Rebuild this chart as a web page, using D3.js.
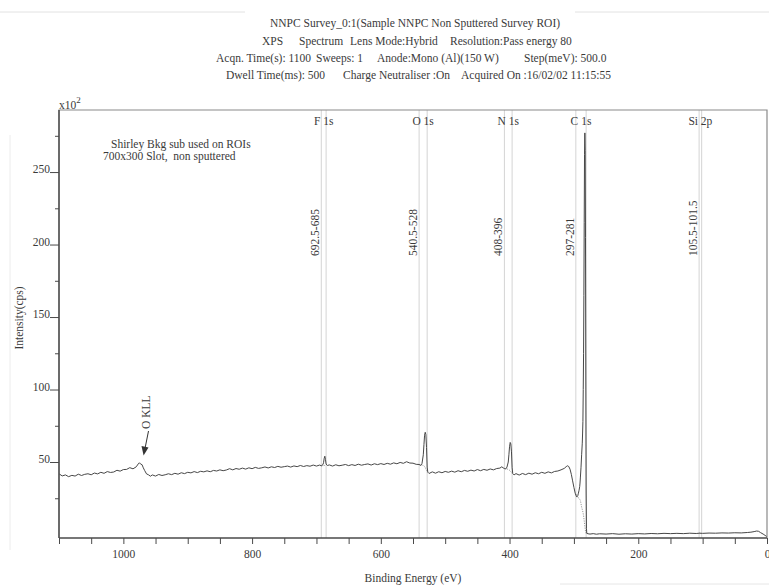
<!DOCTYPE html>
<html><head><meta charset="utf-8">
<script src="https://cdn.jsdelivr.net/npm/d3@7/dist/d3.min.js"></script>
<style>
body{margin:0;background:#fff;}
svg text{font-family:"Liberation Serif","Times New Roman",serif;fill:#3a3a3a;}
</style></head>
<body>
<svg id="chart" width="769" height="587"></svg>
<script>
// ---------- data (binding energy in eV, intensity in x10^2 cps) ----------
const titleLines = [
  ["NNPC Survey_0:1(Sample NNPC Non Sputtered Survey ROI)"],
  ["XPS", "Spectrum", "Lens Mode:Hybrid", "Resolution:Pass energy 80"],
  ["Acqn. Time(s): 1100", "Sweeps: 1", "Anode:Mono (Al)(150 W)", "Step(meV): 500.0"],
  ["Dwell Time(ms): 500", "Charge Neutraliser :On", "Acquired On :16/02/02 11:15:55"]
];
const noteLines = ["Shirley Bkg sub used on ROIs", "700x300 Slot,  non sputtered"];
const xTicksMajor = [1000, 800, 600, 400, 200, 0];
const yTicksMajor = [50, 100, 150, 200, 250];
const yTicksMinor = [25, 75, 125, 175, 225, 275];

const roiNames = ["F 1s", "O 1s", "N 1s", "C 1s", "Si 2p"];
const roiHigh  = [692.5, 540.5, 408, 297, 105.5];
const roiLow   = [685, 528, 396, 281, 101.5];

const bindingEnergy = [
1100,1095,1090,1085,1080,1075,1070,1065,1060,1055,1050,1045,1040,1035,1030,1025,1020,1015,1010,1005,
1000,995,990,985,980,977,975,973,971,969,967,964,961,958,955,950,945,940,935,930,925,920,915,910,905,
900,895,890,885,880,875,870,865,860,855,850,845,840,835,830,825,820,815,810,805,800,795,790,785,780,
775,770,765,760,755,750,745,740,735,730,725,720,715,710,705,700,695,692.5,690,689,688,687,686,685,683,
680,675,670,665,660,655,650,645,640,635,630,625,620,615,610,605,600,595,590,585,580,575,570,565,560,
555,550,545,540.5,538,536,534,533,532,531,530,529,528,527,525,520,515,510,505,500,495,490,485,480,
475,470,465,460,455,450,445,440,435,430,425,420,415,412,410,408,406,404,402,401,400,399,398,397,396,
395,393,390,385,380,375,370,365,360,355,350,345,340,335,330,325,320,315,312,310,308,306,304,302,300,
298,296,295,294,293,292,291,290.5,290,289,288,287,286.5,286,285.5,285,284.5,284,283.5,283,282.5,282,
281.5,281,280.5,280,278,275,270,265,260,250,240,230,220,210,200,190,180,170,160,150,140,130,120,110,
105,100,90,80,70,60,50,40,30,25,20,16,13,10,6,3,0];
const intensity = [
41.9,40.4,41.1,39.9,40.8,40.3,41.6,40.7,41.5,41.9,41.2,42.4,41.8,42.9,42.2,43.4,42.8,43.1,44.3,43.7,
44.8,44.9,46.1,45.3,46.7,48.6,49.5,48.5,48.2,46.0,44.2,41.8,41.2,40.2,41.1,40.3,41.4,40.7,41.2,41.9,41.3,42.2,41.6,42.6,42.0,
42.9,42.5,43.4,42.7,43.6,43.2,43.9,43.3,44.2,43.8,44.6,44.0,44.5,45.4,44.6,45.5,45.0,45.8,45.1,46.0,45.4,46.3,45.6,46.0,46.6,
45.9,46.7,46.2,47.0,46.4,46.8,47.2,46.5,47.3,46.8,47.6,46.9,47.5,47.1,47.9,47.2,47.9,47.4,48.2,49.5,52.5,54.0,51.8,48.6,47.6,
48.0,47.2,48.1,47.4,47.8,48.3,47.5,48.2,47.6,48.5,47.8,48.3,48.7,47.9,48.8,48.2,48.9,48.3,49.1,48.5,49.4,48.8,49.7,49.1,50.2,
49.3,49.2,48.4,48.3,47.6,49.0,55.0,62.0,68.5,70.5,69.0,60.0,46.5,43.0,42.1,43.2,42.3,43.3,42.6,43.5,42.9,43.7,43.0,44.0,
43.3,44.2,43.6,44.4,43.8,44.8,44.0,44.9,44.3,45.2,44.6,45.5,45.8,46.7,46.0,45.5,45.2,46.5,50.0,55.0,60.5,63.5,62.5,57.0,46.0,
42.0,41.1,42.0,41.0,42.1,41.3,42.3,41.6,42.6,41.9,42.9,42.2,43.2,42.5,43.5,43.8,44.6,45.6,46.8,47.4,46.9,45.0,41.5,37.0,32.5,
28.5,26.2,26.0,26.8,28.5,30.5,33.0,35.5,39.0,46.0,55.0,63.0,70.0,78.0,100.0,125.0,165.0,215.0,262.0,277.0,265.0,205.0,
110.0,30.0,4.0,0.8,0.5,0.3,0.6,0.2,0.5,0.3,0.6,0.2,0.5,0.3,0.6,0.4,0.7,0.5,0.8,0.6,0.8,0.6,0.9,0.7,
0.9,0.8,1.0,0.9,1.1,1.0,1.2,1.1,1.4,1.6,2.0,2.4,2.2,1.3,0.3,-0.6,-1.5];

// Shirley backgrounds under each ROI (dotted)
const bgEnergy = [
  [692.5, 688, 685],
  [540.5, 536, 533, 531, 529, 528],
  [408, 402, 399, 397, 396],
  [297, 296, 294, 292, 290, 288, 286, 285, 284, 283, 282, 281],
  [105.5, 101.5]
];
const bgIntensity = [
  [47.4, 47.6, 47.8],
  [48.3, 48.0, 47.4, 46.2, 44.2, 43.0],
  [45.5, 45.0, 44.0, 42.8, 42.0],
  [28.0, 26.1, 25.7, 25.0, 23.6, 19.0, 15.5, 13.0, 9.5, 5.5, 2.4, 0.8],
  [0.9, 0.8]
];

// ---------- layout ----------
const svg = d3.select("#chart");
const L = 59, R = 767, T = 110, B = 538;
const x = d3.scaleLinear().domain([1100, 0]).range([L, R]);
const y = d3.scaleLinear().domain([-2.41, 292.8]).range([B, T]);
const axisCol = "#4a4a4a";

// faint scan edges
svg.append("line").attr("x1",0).attr("x2",245).attr("y1",12).attr("y2",12).attr("stroke","#e2e2e2");
svg.append("line").attr("x1",575).attr("x2",769).attr("y1",12).attr("y2",12).attr("stroke","#e2e2e2");
svg.append("line").attr("x1",560).attr("x2",769).attr("y1",584).attr("y2",584).attr("stroke","#e6e6e6");
svg.append("line").attr("x1",10).attr("x2",10).attr("y1",135).attr("y2",550).attr("stroke","#ececec");

// title
const titleX = [[270],[262,299,350,450],[216,316,377,524],[226,343,461]];
const titleY = [27, 45, 62, 79];
titleLines.forEach((segs, i) => {
  segs.forEach((s, j) => {
    svg.append("text").attr("x", titleX[i][j]).attr("y", titleY[i])
      .attr("font-size", 11.5).text(s);
  });
});

// ROI lines
const roiG = svg.append("g");
roiNames.forEach((n, i) => {
  [roiHigh[i], roiLow[i]].forEach(v => {
    roiG.append("line").attr("x1", x(v)).attr("x2", x(v)).attr("y1", T).attr("y2", B)
      .attr("stroke", "#d4d4d4").attr("stroke-width", 1);
  });
  const mid = (x(roiHigh[i]) + x(roiLow[i])) / 2;
  svg.append("text").attr("x", mid).attr("y", 125).attr("text-anchor", "middle")
    .attr("font-size", 11.5).style("white-space", "pre").text(n);
  svg.append("text").attr("transform", `translate(${x(roiHigh[i]) - 2},${256}) rotate(-90)`)
    .attr("font-size", 11.5).text(`${roiHigh[i]}-${roiLow[i]}`);
});

// clip
svg.append("clipPath").attr("id","clip").append("rect")
  .attr("x", L).attr("y", T).attr("width", R - L).attr("height", B - T);

// backgrounds
const line = d3.line().x(d => x(d[0])).y(d => y(d[1]));
bgEnergy.forEach((arr, i) => {
  svg.append("path").attr("clip-path","url(#clip)")
    .attr("d", line(arr.map((e, k) => [e, bgIntensity[i][k]])))
    .attr("fill","none").attr("stroke","#9a9a9a").attr("stroke-width",1)
    .attr("stroke-dasharray","1.2,1.2");
});

// spectrum
svg.append("path").attr("clip-path","url(#clip)")
  .attr("d", line(bindingEnergy.map((e, k) => [e, intensity[k]])))
  .attr("fill","none").attr("stroke","#474747").attr("stroke-width",1)
  .attr("stroke-linejoin","round");

// frame
svg.append("path").attr("d", `M${L},${B}V${T}H${R}V${B}`).attr("fill","none")
  .attr("stroke", "#8a8a8a").attr("stroke-width", 1.2);
svg.append("line").attr("x1", L).attr("x2", L).attr("y1", T).attr("y2", B)
  .attr("stroke", axisCol).attr("stroke-width", 1.4);
svg.append("line").attr("x1", L).attr("x2", R).attr("y1", B).attr("y2", B)
  .attr("stroke", axisCol).attr("stroke-width", 1.4);

// x axis
const xAx = svg.append("g").attr("transform", `translate(0,${B})`)
  .call(d3.axisBottom(x).tickValues(d3.range(1100, -1, -50)).tickSize(6).tickFormat(""));
xAx.select(".domain").remove();
xAx.selectAll("line").attr("stroke", axisCol);
const xLab = svg.append("g").attr("transform", `translate(0,${B})`)
  .call(d3.axisBottom(x).tickValues(xTicksMajor).tickSize(0).tickPadding(12).tickFormat(d3.format("d")));
xLab.select(".domain").remove();
xLab.selectAll("text").attr("font-size", 11.5).attr("font-family", "Liberation Serif").attr("fill", "#3a3a3a");

// y axis
const yAx = svg.append("g").attr("transform", `translate(${L},0)`)
  .call(d3.axisLeft(y).tickValues(yTicksMajor).tickSize(9).tickPadding(0).tickFormat(d3.format("d")));
yAx.select(".domain").remove();
yAx.selectAll("line").attr("stroke", axisCol);
yAx.selectAll("text").attr("font-size", 11.5).attr("font-family", "Liberation Serif")
  .attr("fill", "#3a3a3a").attr("dy", "0.05em").attr("x", -9);
const yMin = svg.append("g").attr("transform", `translate(${L},0)`)
  .call(d3.axisLeft(y).tickValues(yTicksMinor).tickSize(4).tickFormat(""));
yMin.select(".domain").remove();
yMin.selectAll("line").attr("stroke", axisCol);

// x10^2
const mult = svg.append("text").attr("x", 59).attr("y", 109).attr("font-size", 11.5);
mult.append("tspan").text("x10");
mult.append("tspan").attr("dy", -6).attr("font-size", 9).text("2");

// axis titles
svg.append("text").attr("x", (L + R) / 2).attr("y", 582).attr("text-anchor", "middle")
  .attr("font-size", 11.5).text("Binding Energy (eV)");
svg.append("text").attr("transform", "translate(23,318) rotate(-90)").attr("text-anchor", "middle")
  .attr("font-size", 11.5).text("Intensity(cps)");

// note
svg.append("text").attr("x", 111).attr("y", 148).attr("font-size", 11.5).text(noteLines[0]);
svg.append("text").attr("x", 103).attr("y", 160).attr("font-size", 11.5)
  .style("white-space", "pre").text(noteLines[1]);

// O KLL annotation
svg.append("text").attr("transform", "translate(150,429) rotate(-90)")
  .attr("font-size", 11.5).text("O KLL");
svg.append("line").attr("x1", 148.5).attr("y1", 431).attr("x2", 145.3).attr("y2", 447)
  .attr("stroke", "#333").attr("stroke-width", 1);
svg.append("path").attr("d", "M141.5,446 L148.5,447.5 L143.6,455.5 Z").attr("fill", "#333");
</script>
</body></html>
